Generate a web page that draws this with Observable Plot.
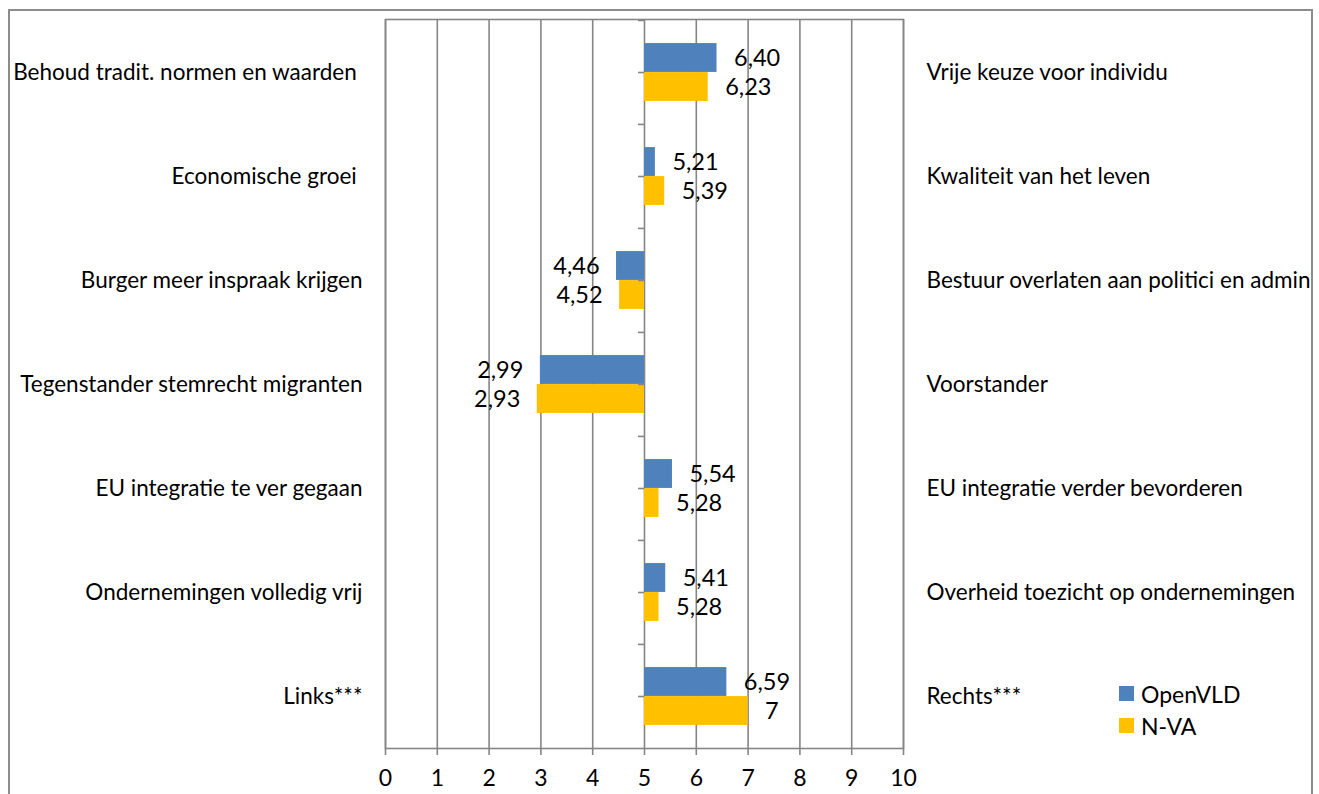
<!DOCTYPE html>
<html>
<head>
<meta charset="utf-8">
<script src="https://cdn.jsdelivr.net/npm/d3@7"></script>
<script src="https://cdn.jsdelivr.net/npm/@observablehq/plot@0.6"></script>
<style>
  html, body { margin: 0; padding: 0; background: #fff; }
  #wrap { position: relative; width: 1319px; height: 794px; overflow: hidden; font-family: Lato, "Open Sans", sans-serif; }
  #chart { position: absolute; left: 0; top: 0; }
  #border { position: absolute; left: 8px; top: 9px; width: 1305px; height: 820px; border: 2px solid #8c8c8c; box-sizing: border-box; pointer-events: none; }
  .leg { position: absolute; left: 1119px; display: flex; align-items: center; font-size: 23px; color: #000; }
  .leg span.sw { width: 15px; height: 15px; margin-right: 7px; display: inline-block; }
</style>
</head>
<body>
<div id="wrap">
  <div id="border"></div>
  <div id="chart"></div>
  <div id="legend"></div>
</div>
<script>
// ---- data ----
const leftLabels = [
  "Behoud tradit. normen en waarden\u00a0",
  "Economische groei\u00a0",
  "Burger meer inspraak krijgen",
  "Tegenstander stemrecht migranten",
  "EU integratie te ver gegaan",
  "Ondernemingen volledig vrij",
  "Links***"
];
const rightLabels = [
  "Vrije keuze voor individu",
  "Kwaliteit van het leven",
  "Bestuur overlaten aan politici en admin",
  "Voorstander",
  "EU integratie verder bevorderen",
  "Overheid toezicht op ondernemingen",
  "Rechts***"
];
const parties = ["OpenVLD", "N-VA"];
const partyColors = ["#4F81BD", "#FFC000"];
const openVLD = [6.40, 5.21, 4.46, 2.99, 5.54, 5.41, 6.59];
const nva = [6.23, 5.39, 4.52, 2.93, 5.28, 5.28, 7];
const xTicks = [0, 1, 2, 3, 4, 5, 6, 7, 8, 9, 10];
const midpoint = 5;

// ---- build table ----
const rows = [];
leftLabels.forEach((c, i) => {
  rows.push({cat: c, right: rightLabels[i], party: parties[0], value: openVLD[i]});
  rows.push({cat: c, right: rightLabels[i], party: parties[1], value: nva[i]});
});
const fmt = v => Number.isInteger(v) ? String(v) : v.toFixed(2).replace(".", ",");
const grid = "#868686";

const H = 794, MT = 19, MB = 46;
const band = (H - MT - MB) / leftLabels.length;
const half = band / 2;
const barH = 29;
const outer = half - barH;

const isA = d => d.party === parties[0];
const isB = d => d.party === parties[1];
const valSize = 23.5, catSize = 22.5;

const chart = Plot.plot({
  width: 1319,
  height: H,
  marginLeft: 385,
  marginRight: 416,
  marginTop: MT,
  marginBottom: MB,
  x: {domain: [0, 10], label: null},
  y: {domain: leftLabels, padding: 0, axis: null},
  color: {domain: parties, range: partyColors},
  style: {fontFamily: "Lato, 'Open Sans', sans-serif", fontSize: "22px", color: "#000", background: "transparent", overflow: "visible"},
  marks: [
    Plot.ruleX(xTicks, {stroke: grid, strokeWidth: 1.6}),
    Plot.frame({stroke: grid, strokeWidth: 1.6}),
    Plot.barX(rows, {filter: isA, y: "cat", x1: midpoint, x2: "value", fill: "party", insetTop: outer, insetBottom: half}),
    Plot.barX(rows, {filter: isB, y: "cat", x1: midpoint, x2: "value", fill: "party", insetTop: half, insetBottom: outer}),
    // tick marks on the central axis (category centres and boundaries)
    Plot.ruleY(leftLabels, {y: d => d, x1: midpoint, x2: midpoint, insetLeft: -6, stroke: grid, strokeWidth: 1.6}),
    Plot.ruleY(leftLabels, {y: d => d, x1: midpoint, x2: midpoint, insetLeft: -6, dy: -half, stroke: grid, strokeWidth: 1.6}),
    // value labels
    Plot.text(rows, {filter: d => isA(d) && d.value >= midpoint, y: "cat", x: "value", text: d => fmt(d.value), textAnchor: "start", dx: 17, dy: -barH / 2, fontSize: valSize}),
    Plot.text(rows, {filter: d => isB(d) && d.value >= midpoint, y: "cat", x: "value", text: d => fmt(d.value), textAnchor: "start", dx: 17, dy: barH / 2, fontSize: valSize}),
    Plot.text(rows, {filter: d => isA(d) && d.value < midpoint, y: "cat", x: "value", text: d => fmt(d.value), textAnchor: "end", dx: -17, dy: -barH / 2, fontSize: valSize}),
    Plot.text(rows, {filter: d => isB(d) && d.value < midpoint, y: "cat", x: "value", text: d => fmt(d.value), textAnchor: "end", dx: -17, dy: barH / 2, fontSize: valSize}),
    // category labels
    Plot.text(leftLabels, {y: d => d, text: d => d, frameAnchor: "left", textAnchor: "end", dx: -23, fontSize: catSize}),
    Plot.text(rightLabels, {y: (d, i) => leftLabels[i], text: d => d, frameAnchor: "right", textAnchor: "start", dx: 23, fontSize: catSize}),
    Plot.axisX({ticks: xTicks, tickSize: 7, tickPadding: 14, stroke: grid, strokeWidth: 1.6, fontSize: 23, label: null, tickFormat: d => String(d)})
  ]
});
document.getElementById("chart").appendChild(chart);

const leg = document.getElementById("legend");
const legTops = [686, 718];
parties.forEach((p, i) => {
  const div = document.createElement("div");
  div.className = "leg";
  div.style.top = (legTops[i] - 6) + "px";
  div.style.height = "27px";
  div.innerHTML = `<span class="sw" style="background:${partyColors[i]}"></span><span>${p}</span>`;
  leg.appendChild(div);
});
</script>
</body>
</html>
